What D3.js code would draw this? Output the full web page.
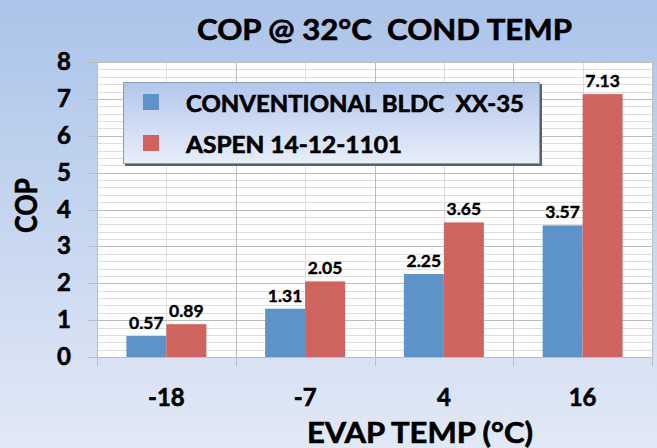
<!DOCTYPE html>
<html>
<head>
<meta charset="utf-8">
<script src="https://cdn.jsdelivr.net/npm/d3@7"></script>
<style>
body { margin: 0; }
svg text { font-family: Lato, "Open Sans", sans-serif; font-weight: bold; fill: #000; stroke: #000; stroke-width: 0.6px; white-space: pre; }
</style>
</head>
<body>
<div id="viz"></div>
<script>
// chart data
var categories = ["-18", "-7", "4", "16"];
var seriesNames = ["CONVENTIONAL BLDC  XX-35", "ASPEN 14-12-1101"];
var conventional = [0.57, 1.31, 2.25, 3.57];
var aspen = [0.89, 2.05, 3.65, 7.13];
var yTicks = [0, 1, 2, 3, 4, 5, 6, 7, 8];
var colors = ["#5e93ca", "#cf645f"];

var width = 657, height = 448;
var plot = {left: 97, right: 652, top: 62, bottom: 357};

var svg = d3.select("#viz").append("svg")
	.attr("width", width)
	.attr("height", height);

var defs = svg.append("defs");
var bg = defs.append("linearGradient").attr("id", "bg").attr("x1", 0).attr("y1", 0).attr("x2", 0).attr("y2", 1);
bg.append("stop").attr("offset", "0%").attr("stop-color", "#abc4e9");
bg.append("stop").attr("offset", "100%").attr("stop-color", "#e2e9f6");
var lg = defs.append("linearGradient").attr("id", "lg").attr("x1", 0).attr("y1", 0).attr("x2", 0).attr("y2", 1);
lg.append("stop").attr("offset", "0%").attr("stop-color", "#b2c7ec");
lg.append("stop").attr("offset", "100%").attr("stop-color", "#e8eef9");

svg.append("rect").attr("width", width).attr("height", height).attr("fill", "url(#bg)");

// scales
var y = d3.scaleLinear().domain([0, 8]).range([plot.bottom, plot.top]);
var x0 = d3.scaleBand().domain(categories).range([plot.left, plot.right]);
var x1 = d3.scaleBand().domain([0, 1]).range([0, x0.bandwidth()]).paddingOuter(0.735);

// plot area
svg.append("rect")
	.attr("x", plot.left).attr("y", plot.top)
	.attr("width", plot.right - plot.left).attr("height", plot.bottom - plot.top)
	.attr("fill", "#fff");

// minor horizontal grid
var minor = d3.range(0, 8.001, 0.2).filter(function(v) { return Math.abs(v - Math.round(v)) > 0.01; });
svg.append("g").selectAll("line").data(minor).enter().append("line")
	.attr("x1", plot.left).attr("x2", plot.right)
	.attr("y1", function(d) { return Math.round(y(d)) + 0.5; })
	.attr("y2", function(d) { return Math.round(y(d)) + 0.5; })
	.attr("stroke", "#dedede");

// vertical grid at category centres
svg.append("g").selectAll("line").data(categories).enter().append("line")
	.attr("x1", function(d) { return Math.round(x0(d) + x0.bandwidth() / 2) + 0.5; })
	.attr("x2", function(d) { return Math.round(x0(d) + x0.bandwidth() / 2) + 0.5; })
	.attr("y1", plot.top).attr("y2", plot.bottom)
	.attr("stroke", "#dcdcdc");

// major horizontal grid + ticks
svg.append("g").selectAll("line").data(yTicks).enter().append("line")
	.attr("x1", plot.left - 9).attr("x2", plot.right)
	.attr("y1", function(d) { return Math.round(y(d)) + 0.5; })
	.attr("y2", function(d) { return Math.round(y(d)) + 0.5; })
	.attr("stroke", "#bdbdbd");

// category boundaries, reaching below the axis as ticks
var bounds = categories.map(function(d) { return x0(d); }).concat([plot.right]);
svg.append("g").selectAll("line").data(bounds).enter().append("line")
	.attr("x1", function(d) { return Math.round(d) + 0.5; })
	.attr("x2", function(d) { return Math.round(d) + 0.5; })
	.attr("y1", plot.top).attr("y2", plot.bottom + 9)
	.attr("stroke", "#bdbdbd");

// bars
var data = [];
categories.forEach(function(c, i) {
	data.push({cat: c, s: 0, v: conventional[i]});
	data.push({cat: c, s: 1, v: aspen[i]});
});
svg.append("g").selectAll("rect").data(data).enter().append("rect")
	.attr("x", function(d) { return x0(d.cat) + x1(d.s); })
	.attr("y", function(d) { return y(d.v); })
	.attr("width", x1.bandwidth())
	.attr("height", function(d) { return y(0) - y(d.v); })
	.attr("fill", function(d) { return colors[d.s]; });

// value labels
svg.append("g").selectAll("text").data(data).enter().append("text")
	.attr("x", function(d) { return x0(d.cat) + x1(d.s) + x1.bandwidth() / 2; })
	.attr("y", function(d) { return y(d.v) - 7; })
	.attr("text-anchor", "middle")
	.attr("font-size", 17.5)
	.style("stroke-width", "0.4px")
	.text(function(d) { return d.v.toFixed(2); });

// y tick labels
svg.append("g").selectAll("text").data(yTicks).enter().append("text")
	.attr("x", 71)
	.attr("y", function(d) { return y(d) + 8; })
	.attr("text-anchor", "end")
	.attr("font-size", 24)
	.text(function(d) { return d; });

// x tick labels
svg.append("g").selectAll("text").data(categories).enter().append("text")
	.attr("x", function(d) { return x0(d) + x0.bandwidth() / 2; })
	.attr("y", 406)
	.attr("text-anchor", "middle")
	.attr("font-size", 24)
	.text(function(d) { return d; });

// titles
svg.append("text").attr("x", 197).attr("y", 40)
	.attr("font-size", 29)
	.attr("textLength", 375).attr("lengthAdjust", "spacingAndGlyphs")
	.text("COP @ 32°C  COND TEMP");
svg.append("text").attr("x", 307).attr("y", 443)
	.attr("font-size", 28)
	.attr("textLength", 226).attr("lengthAdjust", "spacingAndGlyphs")
	.text("EVAP TEMP (°C)");
svg.append("text")
	.attr("transform", "translate(37,233) rotate(-90)")
	.attr("font-size", 30)
	.attr("textLength", 55).attr("lengthAdjust", "spacingAndGlyphs")
	.text("COP");

// legend
var legend = svg.append("g");
legend.append("rect").attr("x", 125).attr("y", 84).attr("width", 417).attr("height", 82).attr("fill", "#5a5f68");
legend.append("rect").attr("x", 123.5).attr("y", 82.5).attr("width", 416).attr("height", 81)
	.attr("fill", "url(#lg)").attr("stroke", "#8d9cb4");
var legendW = [338, 216];
seriesNames.forEach(function(name, i) {
	legend.append("rect").attr("x", 143).attr("y", 94 + i * 41).attr("width", 16).attr("height", 16).attr("fill", colors[i]);
	legend.append("text").attr("x", 186).attr("y", 112 + i * 41)
		.attr("font-size", 22)
		.attr("textLength", legendW[i]).attr("lengthAdjust", "spacingAndGlyphs")
		.text(name);
});
</script>
</body>
</html>
